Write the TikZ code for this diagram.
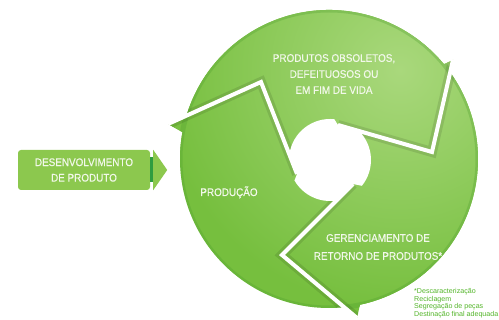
\documentclass[tikz,border=0pt]{standalone}
\usepackage{fontspec}
\setmainfont{Liberation Sans}
\newfontfamily\labelfont[FakeStretch=0.9,FakeBold=0.4]{Liberation Sans}
\usetikzlibrary{calc}
\definecolor{ringbase}{HTML}{76BF3E}
\definecolor{ringlight}{HTML}{A9D87C}
\definecolor{ringrim}{HTML}{4E9E2E}
\definecolor{boxgreen}{HTML}{8CC84E}
\definecolor{stripgreen}{HTML}{2E9C40}
\definecolor{notegreen}{HTML}{52B428}
\definecolor{labelwhite}{HTML}{F2F8EA}
\begin{document}
\begin{tikzpicture}[x=1pt,y=-1pt,
  lbl/.style={text=labelwhite, inner sep=0pt, font=\labelfont\fontsize{11}{16}\selectfont},
  cut/.style={draw=white, line width=4pt, line join=miter, miter limit=20},
  cutshadow/.style={draw=black, opacity=0.10, line width=10pt, line join=miter, miter limit=20},
  note/.style={text=notegreen, inner sep=0pt, align=left, font=\fontsize{7.1}{7.5}\selectfont},
  devbox/.style={fill=boxgreen, rounded corners=3pt, minimum width=132pt, minimum height=40pt,
    inner sep=0pt, text=labelwhite, align=center, font=\labelfont\fontsize{11}{15.5}\selectfont}]
\useasboundingbox (0,0) rectangle (499,320);
\clip (0,0) rectangle (499,320);
% geometry
\coordinate (O) at (329,159);
\coordinate (H) at (330,160);
\coordinate (tipA) at (168,124); \coordinate (vA) at (261,82);  \coordinate (eA) at (297,174);
\coordinate (tipB) at (453,60);  \coordinate (vB) at (432,152); \coordinate (eB) at (338,125);
\coordinate (tipC) at (357,318); \coordinate (vC) at (282,255); \coordinate (eC) at (353,184);
\def\ringoutline{($(O)+(78:149)$) -- (tipC) -- ($(O)+(84.1:149)$)
  arc[start angle=84.1,end angle=190.4,radius=149] -- (tipA) -- ($(O)+(197:149)$)
  arc[start angle=197,end angle=320.5,radius=149] -- (tipB) -- ($(O)+(324.4:149)$)
  arc[start angle=324.4,end angle=438,radius=149] -- cycle}
\def\holeoutline{($(H)+(80.8:41)$) arc[start angle=80.8,end angle=150,radius=41]
  -- (eA) -- ($(H)+(188:41)$) arc[start angle=188,end angle=276,radius=41]
  -- (eB) -- ($(H)+(315:41)$) arc[start angle=315,end angle=399,radius=41]
  -- (eC) -- cycle}
% ring
\fill[ringbase] \ringoutline;
\begin{scope}
  \clip \ringoutline;
  \shade[inner color=ringlight, outer color=ringbase] (400,70) circle (240);
  \draw[ringrim, opacity=.3, line width=5pt] (O) circle (149);
  \draw[cutshadow] (tipA) -- (vA) -- (eA);
  \draw[cutshadow] (tipB) -- (vB) -- (eB);
  \draw[cutshadow] (tipC) -- (vC) -- (eC);
\end{scope}
\fill[white] \holeoutline;
\draw[cut] (tipA) -- (vA) -- (eA);
\draw[cut] (tipB) -- (vB) -- (eB);
\draw[cut] (tipC) -- (vC) -- (eC);
% labels
\node[lbl, align=center] (obs) at (334,74) {PRODUTOS OBSOLETOS,\\DEFEITUOSOS OU\\EM FIM DE VIDA};
\node[lbl, anchor=base] (prod) at (229,196) {PRODUÇÃO};
\node[lbl, align=center, font=\labelfont\fontsize{11}{18}\selectfont] (ger) at (378,247) {GERENCIAMENTO DE\\RETORNO DE PRODUTOS*};
% input box
\node[devbox] (dev) at (84,170) {DESENVOLVIMENTO\\DE PRODUTO};
\fill[stripgreen] ($(dev.east)+(0,-12.5)$) rectangle ($(dev.east)+(3,12.5)$);
\fill[boxgreen] ($(dev.north east)+(3,0)$) -- ($(dev.east)+(17,0)$) -- ($(dev.south east)+(3,0)$) -- cycle;
% footnote
\node[note, anchor=north west] (nota) at (414,288.5) {*Descaracterização\\Reciclagem\\Segregação de peças\\Destinação final adequada};
\end{tikzpicture}
\end{document}
